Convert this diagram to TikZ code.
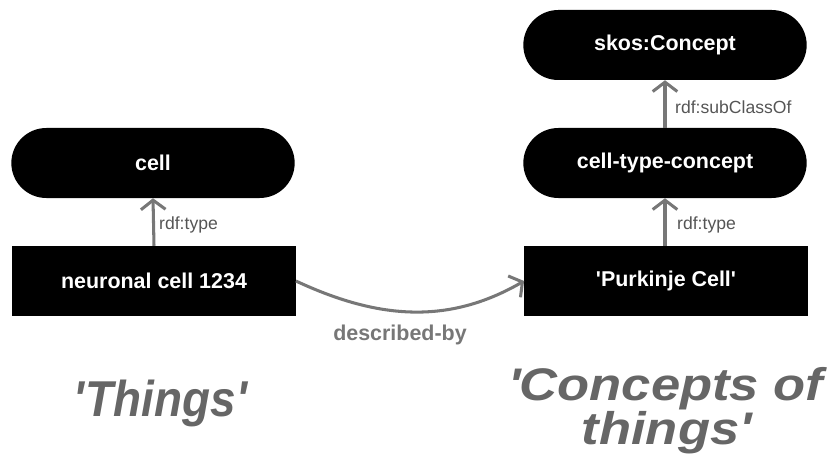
\documentclass[tikz,border=0pt]{standalone}
\usepackage{fontspec}
\setmainfont{Liberation Sans}
\newfontfamily\widefont[FakeStretch=1.15]{Liberation Sans}
\newfontfamily\narrowfont[FakeStretch=0.91]{Liberation Sans}
\usepackage{tikz}
\usetikzlibrary{arrows.meta}
\definecolor{linkgray}{HTML}{777777}
\definecolor{labelgray}{HTML}{555555}
\definecolor{titlegray}{HTML}{666666}
\newcommand{\q}{\textquotesingle}

\begin{document}
\begin{tikzpicture}[x=0.03cm, y=0.03cm,
    term/.style={fill=black, text=white, minimum width=8.5cm, minimum height=2.1cm,
      inner sep=0pt, font=\fontsize{18.3}{21}\selectfont\bfseries},
    concept/.style={term, rounded corners=1.05cm},
    link/.style={draw=linkgray, line width=2.6pt, -{Straight Barb[length=8pt, width=21pt, line width=2.6pt]}},
    linklabel/.style={text=labelgray, inner sep=0pt, font=\fontsize{15}{18}\selectfont},
    title/.style={text=titlegray, inner sep=0pt, align=center, font=\fontsize{39}{37.5}\selectfont\bfseries\itshape}]
      \useasboundingbox (0,0) rectangle (832,469);

      % 1. 'Things'
      \node[concept] (cell) at (153,306) {cell};
      \node[term] (neuron) at (154,188) {neuronal cell 1234};

      % 2. 'Concepts of things'
      \node[concept] (skos) at (665,424) {skos:Concept};
      \node[concept] (celltype) at (665,306) {cell-type-concept};
      \node[term] (purkinje) at (666,188) {\q Purkinje Cell\q};

      % 3. rdf links
      \draw[link] (neuron.north) -- (cell.south);
      \draw[link] (purkinje.north -| celltype.south) -- (celltype.south);
      \draw[link] (celltype.north) -- (skos.south);
      \node[linklabel, anchor=west] (typeA) at (159,244) {rdf:type};
      \node[linklabel, anchor=west] (typeB) at (677,244) {rdf:type};
      \node[linklabel, anchor=west] (subclass) at (675,362) {rdf:subClassOf};

      % 4. described-by
      \draw[link] (neuron.east) to[out=-25, in=-150] (purkinje.west);
      \node[text=linkgray, inner sep=0pt, font=\fontsize{18.3}{21}\selectfont\bfseries]
        (describedby) at (400,134) {described-by};

      % 5. titles
      \node[title, anchor=base, font=\narrowfont\fontsize{43}{43}\selectfont\bfseries\itshape]
        (things) at (161,53) {\q Things\q};
      \node[title, font=\widefont\fontsize{39}{37.5}\selectfont\bfseries\itshape]
        (concepts) at (666,58) {\q Concepts of\\ things\q};
    \end{tikzpicture}
\end{document}
